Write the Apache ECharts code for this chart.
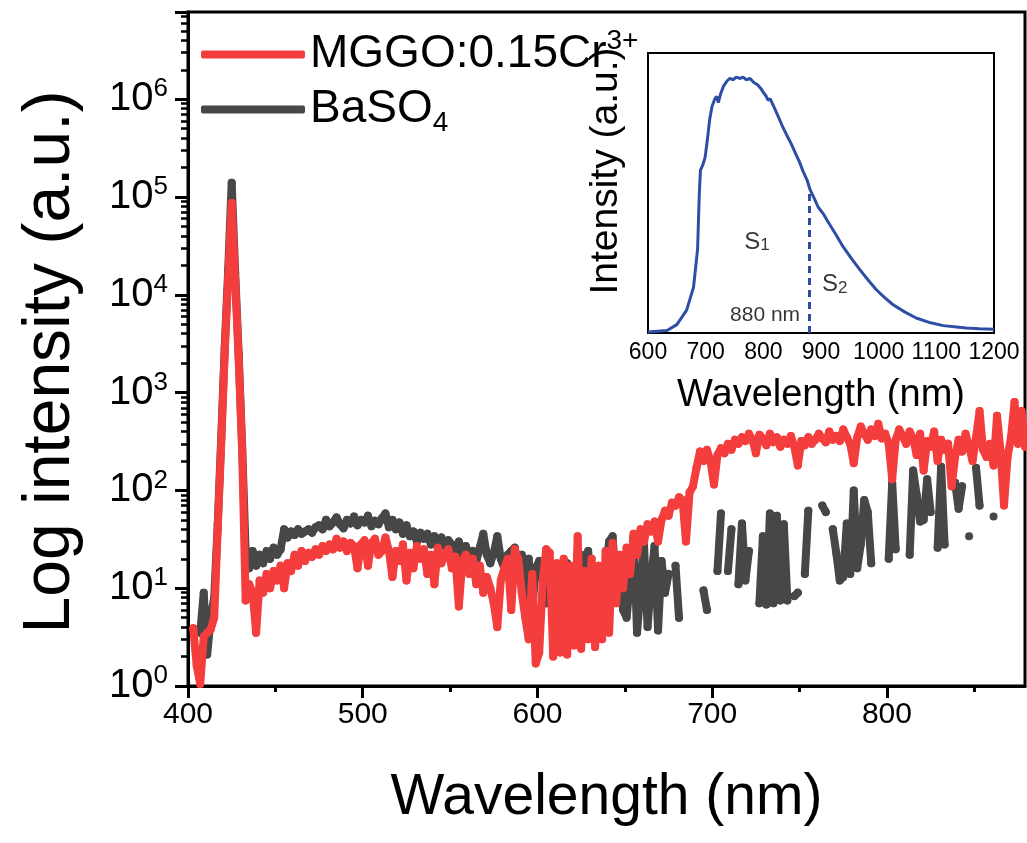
<!DOCTYPE html>
<html><head><meta charset="utf-8">
<script src="https://cdn.jsdelivr.net/npm/echarts@6/dist/echarts.min.js"></script>
<style>html,body{margin:0;padding:0;background:#fff}#c{width:1027px;height:843px}</style>
</head><body><div id="c"></div>
<script>
// ---- main spectrum: wavelength grid (nm) ----
const wlStart = 403, wlStep = 2;
// MGGO:0.15Cr3+ intensities (a.u.), one per grid point
const mggo = [
3.9,1.6,1.05,3.2,3.5,3.8,5,40,300,2500,
15000,87000,14000,2200,250,7.5,11,9,3.5,12,
9,14,10,15,12,17,10,18,15,22,
17,24,19,23,21,25,22,27,24,28,
25,32,26,30,24,29,27,16,28,31,
17,29,32,22,24,33,24,13,24,19,
28,12,23,16,27,20,25,14,22,11,
26,18,22,25,16,21,6.5,19,22,14,
20,11,17,9,13,10,7,4,12,16,
20,6,25,20,9,5,3,14,1.7,2.2,
12,25,23,2,18,2.2,20,2.1,17,2.6,
34,2.4,15,3,20,2.5,17,3,24,3.5,
29,7,22,10,26,14,36,22,40,30,
45,38,48,30,50,62,55,75,70,85,
80,30,95,110,170,250,200,260,200,115,
230,270,240,300,260,330,300,350,320,380,
330,240,370,340,290,380,310,350,280,330,
300,360,280,180,320,290,350,300,330,380,
340,310,400,330,360,320,420,350,300,190,
350,450,380,330,420,360,480,340,380,300,
130,330,420,360,300,400,340,230,380,160,
320,280,400,200,330,260,300,110,220,330,
250,380,280,200,350,650,260,220,300,180,
580,250,70,220,350,800,300,650,280
];
// BaSO4 intensities (a.u.), null = not plotted (non-positive)
const baso4 = [
null,null,3.5,9,2.1,5,8,45,340,2900,
18000,140000,17000,2500,280,24,16,24,17,22,
18,24,20,26,22,25,40,33,38,35,
40,36,38,40,37,42,44,40,50,43,
47,53,45,41,50,46,54,44,50,47,
55,43,49,45,52,58,42,50,40,47,
36,44,34,38,30,37,32,36,28,34,
30,33,27,31,28,24,30,22,27,21,
24,19,26,36,22,18,23,34,20,16,
22,24,26,14,22,8,20,6,16,19,
12,7,17,10,16,5,15,18,4,16,
3,22,5,24,8,4,16,5,14,30,
34,10,18,6,5,12,34,3.5,10,27,
4,12,27,3.7,19,9,14,null,17,5,
null,null,null,null,null,null,9.5,6,null,null,
15,58,null,15,40,null,11,46,12,24,
null,null,7,34,6.8,58,7,55,7.5,45,
7.5,null,8.3,9,null,14,62,null,null,null,
70,60,null,40,23,12,13,46,14,100,
16,28,80,60,18,null,null,null,null,20,
120,25,null,null,null,22,160,90,48,50,
130,60,null,26,175,28,null,null,120,65,
110,null,34,null,170,70,null,null,null,54,
null,null,null,null,null,null,null,null,null
];
const seriesNames = ['MGGO:0.15Cr3+', 'BaSO4'];
const xMain = [400, 879];
const xMajor = [400, 500, 600, 700, 800];
const xMinor = [450, 550, 650, 750, 850];
const yMain = [1, 7.8e6];

// ---- inset emission spectrum ----
const insetWl = [600,633,650,667,679,686,689,691,695,699,703,707,711,716,719,722,726,731,737,742,748,753,760,765,770,777,783,790,796,800,805,808,812,818,825,832,840,848,856,863,869,876,881,888,895,905,910,925,938,952,967,981,996,1010,1025,1045,1065,1090,1112,1135,1152,1175,1200];
const insetInt = [0.004,0.01,0.033,0.09,0.18,0.33,0.55,0.64,0.66,0.69,0.76,0.84,0.89,0.92,0.93,0.905,0.94,0.97,0.99,1.0,0.995,1.005,1.0,1.005,0.995,1.0,0.985,0.975,0.96,0.945,0.93,0.915,0.92,0.89,0.855,0.818,0.78,0.745,0.705,0.67,0.635,0.6,0.563,0.53,0.495,0.465,0.445,0.39,0.34,0.295,0.25,0.21,0.17,0.14,0.111,0.083,0.059,0.04,0.029,0.024,0.02,0.017,0.015];
const insetMajor = [600, 1200];
const insetMinor = [650, 750, 850, 950, 1050, 1150];
const dividerNm = 880, dividerTop = 0.565;
const annoText = ['S1', 'S2', '880 nm'];
const annoX = [789, 924, 803];
const annoY = [0.357, 0.19, 0.07];

const FONT = 'Liberation Sans, Arial, sans-serif';
const RED = '#f43e3e', GRAY = '#474747', BLUE = '#2e4ea6';

function toPairs(arr) {
  return arr.map((v, i) => [wlStart + i * wlStep, v == null ? '-' : v]);
}
const yMaxLog = Math.log10(yMain[1]);
const yMinorVals = [];
for (let d = 0; d <= 6; d++) for (let k = 2; k <= 9; k++) {
  const l = Math.log10(k * Math.pow(10, d));
  if (l < yMaxLog) yMinorVals.push(l);
}

const chart = echarts.init(document.getElementById('c'), null, {renderer: 'canvas'});
const lineCommon = (name, data, color, z) => ({
  name, type: 'line', xAxisIndex: 0, yAxisIndex: 0, data: toPairs(data), z,
  showSymbol: true, symbol: 'circle', symbolSize: 8, connectNulls: false,
  itemStyle: {color}, lineStyle: {color, width: 8, cap: 'round', join: 'round'},
  emphasis: {disabled: true}, silent: true, animation: false
});

chart.setOption({
  animation: false,
  textStyle: {fontFamily: FONT},
  grid: [
    {left: 188, right: 2, top: 12, bottom: 157, show: true, borderColor: '#000', borderWidth: 3, backgroundColor: 'transparent'},
    {left: 648, top: 53, width: 346, height: 280, show: true, borderColor: '#000', borderWidth: 2, backgroundColor: '#fff', z: 5}
  ],
  legend: {
    data: seriesNames, orient: 'vertical', left: 196, top: 22, itemGap: 0,
    itemWidth: 104, itemHeight: 8, icon: 'roundRect', selectedMode: false,
    textStyle: {fontSize: 46, lineHeight: 55, color: '#000', fontFamily: FONT,
      rich: {sup: {fontSize: 28, lineHeight: 30, verticalAlign: 'top', fontFamily: FONT, color: '#000'},
             sub: {fontSize: 28, lineHeight: 30, verticalAlign: 'bottom', fontFamily: FONT, color: '#000'}}},
    formatter: n => n === seriesNames[0] ? 'MGGO:0.15Cr{sup|3+}' : 'BaSO{sub|4}'
  },
  xAxis: [
    {type: 'value', gridIndex: 0, position: 'bottom', min: xMain[0], max: xMain[1],
     axisLine: {lineStyle: {color: '#000', width: 3}},
     axisTick: {customValues: xMajor, length: 12, lineStyle: {width: 3, color: '#000'}},
     axisLabel: {customValues: xMajor, fontSize: 30, color: '#000', margin: 14, fontFamily: FONT},
     splitLine: {show: false},
     name: 'Wavelength (nm)', nameLocation: 'middle', nameGap: 84,
     nameTextStyle: {fontSize: 57, color: '#000', fontFamily: FONT}},
    {type: 'value', gridIndex: 0, position: 'bottom', min: xMain[0], max: xMain[1],
     axisLine: {show: false},
     axisTick: {customValues: xMinor, length: 6, lineStyle: {width: 3, color: '#000'}},
     axisLabel: {show: false}, splitLine: {show: false}},
    {type: 'value', gridIndex: 1, position: 'bottom', min: insetMajor[0], max: insetMajor[1], interval: 100,
     axisLine: {lineStyle: {color: '#000', width: 2}},
     axisTick: {inside: true, length: 6, lineStyle: {width: 2, color: '#000'}},
     axisLabel: {fontSize: 23, color: '#000', margin: 8, fontFamily: FONT, formatter: v => String(v)},
     splitLine: {show: false},
     name: 'Wavelength (nm)', nameLocation: 'middle', nameGap: 44,
     nameTextStyle: {fontSize: 38, color: '#000', fontFamily: FONT}},
    {type: 'value', gridIndex: 1, position: 'bottom', min: insetMajor[0], max: insetMajor[1],
     axisLine: {show: false},
     axisTick: {inside: true, customValues: insetMinor, length: 4, lineStyle: {width: 2, color: '#000'}},
     axisLabel: {show: false}, splitLine: {show: false}}
  ],
  yAxis: [
    {type: 'log', logBase: 10, gridIndex: 0, position: 'left', min: yMain[0], max: yMain[1],
     axisLine: {show: true, lineStyle: {color: '#000', width: 3}},
     axisTick: {show: true, length: 13, lineStyle: {width: 3, color: '#000'}},
     axisLabel: {fontSize: 40, lineHeight: 46, color: '#000', margin: 20, fontFamily: FONT,
       formatter: v => { const l = Math.log10(v), e = Math.round(l); return Math.abs(l - e) > 1e-6 ? '' : '10{sup|' + e + '}'; },
       rich: {sup: {fontSize: 26, lineHeight: 28, verticalAlign: 'top', color: '#000', fontFamily: FONT}}},
     splitLine: {show: false}, minorTick: {show: false},
     name: 'Log intensity (a.u.)', nameLocation: 'middle', nameGap: 104,
     nameTextStyle: {fontSize: 66, color: '#000', fontFamily: FONT, padding: [0, 26, 0, 0]}},
    {type: 'value', gridIndex: 0, position: 'left', min: 0, max: yMaxLog,
     axisLine: {show: false},
     axisTick: {show: true, customValues: yMinorVals, length: 7, lineStyle: {width: 2.5, color: '#000'}},
     axisLabel: {show: false}, splitLine: {show: false}},
    {type: 'value', gridIndex: 1, position: 'left', min: 0, max: 1.1,
     axisLine: {show: true, lineStyle: {color: '#000', width: 2}},
     axisTick: {show: false}, axisLabel: {show: false}, splitLine: {show: false},
     name: 'Intensity (a.u.)', nameLocation: 'middle', nameGap: 22,
     nameTextStyle: {fontSize: 39, color: '#000', fontFamily: FONT, padding: [0, 0, 0, 44]}}
  ],
  series: [
    lineCommon(seriesNames[1], baso4, GRAY, 2),
    lineCommon(seriesNames[0], mggo, RED, 3),
    {type: 'line', xAxisIndex: 2, yAxisIndex: 2, z: 6,
     data: insetWl.map((w, i) => [w, insetInt[i]]),
     showSymbol: false, smooth: false,
     lineStyle: {color: BLUE, width: 3}, itemStyle: {color: BLUE},
     emphasis: {disabled: true}, silent: true,
     markLine: {silent: true, symbol: 'none', animation: false,
       lineStyle: {color: BLUE, width: 3, type: [7, 5]}, label: {show: false},
       data: [[{coord: [dividerNm, 0]}, {coord: [dividerNm, dividerTop]}]]}},
    {type: 'scatter', xAxisIndex: 2, yAxisIndex: 2, z: 7, symbolSize: 0, silent: true,
     data: annoText.map((t, i) => ({name: t, value: [annoX[i], annoY[i]]})),
     label: {show: true, position: 'inside', color: '#000', fontSize: 24, fontFamily: FONT,
       formatter: p => p.name === '880 nm' ? '{s|880 nm}' : 'S{sub|' + p.name.slice(1) + '}',
       rich: {sub: {fontSize: 17, verticalAlign: 'bottom', lineHeight: 18, color: '#000', fontFamily: FONT},
              s: {fontSize: 21, color: '#000', fontFamily: FONT}}}}
  ]
});
</script></body></html>
